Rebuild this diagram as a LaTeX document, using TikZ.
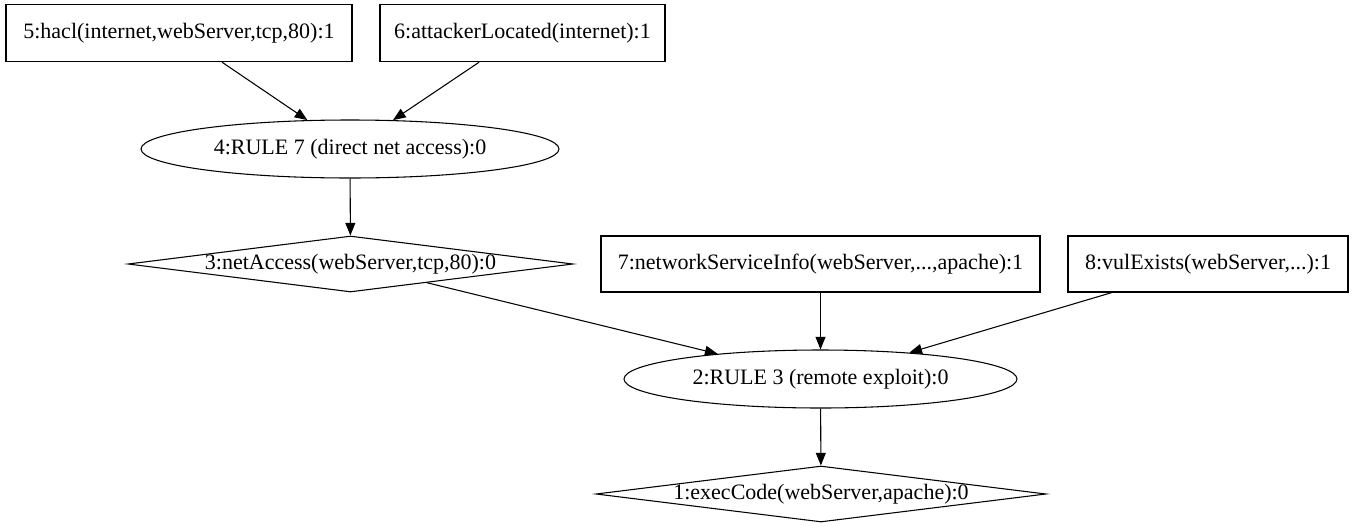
\documentclass[tikz,border=0pt]{standalone}
\usepackage{fontspec}
\setmainfont{Liberation Serif}
\usetikzlibrary{shapes.geometric,arrows.meta}
\tikzset{
  leaf/.style={draw, rectangle, inner sep=0pt, minimum height=43pt},
  rulenode/.style={draw, ellipse, inner sep=0pt, minimum height=43.5pt},
  derived/.style={draw, diamond, inner ysep=0pt, inner xsep=-4pt, aspect=8, minimum height=42pt},
  edge/.style={-{Triangle[length=9.5pt,width=7.5pt]}}
}
\begin{document}
\begin{tikzpicture}[x=0.75pt, y=-0.75pt, line width=0.8pt, font=\fontsize{16.5}{19}\selectfont]
\useasboundingbox (0,0) rectangle (1355,525);
\node[leaf, minimum width=259.5pt] (n5) at (179,33){5:hacl(internet,webServer,tcp,80):1};
\node[leaf, minimum width=213.75pt] (n6) at (522.5,33){6:attackerLocated(internet):1};
\node[rulenode, minimum width=313.5pt] (n4) at (350,149){4:RULE 7 (direct net access):0};
\draw[edge](n5) -- (n4);
\draw[edge](n6) -- (n4);
\node[derived, minimum width=333.75pt] (n3) at (350.5,264){3:netAccess(webServer,tcp,80):0};
\draw[edge](n4) -- (n3);
\node[leaf, minimum width=329.25pt, minimum height=42pt] (n7) at (820.5,264){7:networkServiceInfo(webServer,...,apache):1};
\node[leaf, minimum width=210pt, minimum height=42pt] (n8) at (1208,264){8:vulExists(webServer,...):1};
\node[rulenode, minimum width=294.75pt] (n2) at (820.5,379){2:RULE 3 (remote exploit):0};
\draw[edge](n3) -- (n2);
\draw[edge](n7) -- (n2);
\draw[edge](n8) -- (n2);
\node[derived, minimum width=337.5pt] (n1) at (821,494){1:execCode(webServer,apache):0};
\draw[edge](n2) -- (n1);
\end{tikzpicture}
\end{document}
